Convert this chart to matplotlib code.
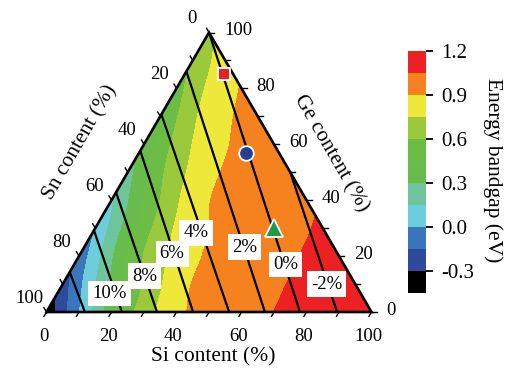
import numpy as np
import matplotlib
matplotlib.use("Agg")
import matplotlib.pyplot as plt
import matplotlib.tri as mtri
from matplotlib.colors import ListedColormap, BoundaryNorm

plt.rcParams["font.family"] = ["Liberation Serif", "DejaVu Serif"]
plt.rcParams["axes.unicode_minus"] = False

# ---------------------------------------------------------------------------
# Energy bandgap (eV) of Ge-Si-Sn alloys on a 10 % composition grid.
# Each row has a fixed Ge content; entries run over Si = 0, 10, ... 100-Ge %,
# the remainder being Sn.
# ---------------------------------------------------------------------------
ge_content = [0, 10, 20, 30, 40, 50, 60, 70, 80, 90, 100]
bandgap_rows = [
    [-0.410, -0.012, 0.386, 0.678, 0.863, 0.944, 0.999, 1.051, 1.074, 1.097, 1.120],
    [-0.228, 0.141, 0.475, 0.735, 0.905, 0.957, 1.008, 1.054, 1.077, 1.100],
    [-0.107, 0.275, 0.604, 0.793, 0.919, 0.968, 1.017, 1.057, 1.080],
    [0.000, 0.364, 0.663, 0.846, 0.932, 0.978, 1.025, 1.061],
    [0.125, 0.449, 0.727, 0.895, 0.944, 0.990, 1.035],
    [0.236, 0.565, 0.784, 0.912, 0.957, 1.003],
    [0.338, 0.645, 0.832, 0.925, 0.971],
    [0.431, 0.717, 0.878, 0.939],
    [0.530, 0.776, 0.906],
    [0.628, 0.822],
    [0.720],
]

band_levels = [-0.45, -0.30, -0.15, 0.00, 0.15, 0.30, 0.45, 0.60, 0.75, 0.90, 1.05, 1.20]
band_colors = ["#000000", "#2D4A9D", "#3A76BB", "#6DCDDB", "#6CC59B", "#67BC4B",
               "#6BBD45", "#9BC93C", "#EEE83A", "#F5821F", "#ED2024"]
cbar_ticks = [-0.3, 0.0, 0.3, 0.6, 0.9, 1.2]

# Lattice-mismatch lines (%): upper end (Si, Ge fractions) and Si fraction where
# each line meets the Ge-free edge.
strain_pct = [12, 10, 8, 6, 4, 2, 0, -2]
strain_top_si = [0.0, 0.0, 0.0, 0.0, 0.0, 0.0, 0.0, 0.50]
strain_top_ge = [0.143, 0.292, 0.428, 0.577, 0.707, 0.861, 1.0, 0.50]
strain_bottom_si = [0.118, 0.232, 0.340, 0.451, 0.562, 0.672, 0.780, 0.894]
label_frac = [None, 0.77, 0.70, 0.64, 0.60, 0.73, 0.83, 0.80]   # where the label sits
label_dx_px = [0, -6, 0, -2, -6, 1, 1, -1]

# Sample compositions (fractions)
sample_si = [0.12, 0.33, 0.55]
sample_ge = [0.85, 0.57, 0.30]
sample_marker = ["s", "o", "^"]
sample_color = ["#E8202A", "#233E93", "#1E9A4A"]
sample_size = [8.5, 10.5, 12.5]

H3 = np.sqrt(3) / 2


def cart(si, ge):
    si = np.asarray(si, float)
    ge = np.asarray(ge, float)
    return si + 0.5 * ge, H3 * ge


W, H = 508, 372
fig = plt.figure(figsize=(W / 100, H / 100), dpi=100)


def px_rect(x0, y0, x1, y1):
    return [x0 / W, 1 - y1 / H, (x1 - x0) / W, (y1 - y0) / H]


ax = fig.add_axes(px_rect(46.5, 32.5, 371.5, 312))
ax.set_xlim(0, 1)
ax.set_ylim(0, H3)
ax.axis("off")

# grid nodes -> smooth surface through them
px, py, pz = [], [], []
for ge, row in zip(ge_content, bandgap_rows):
    for k, e in enumerate(row):
        x, y = cart(k * 0.1, ge / 100)
        px.append(float(x)); py.append(float(y)); pz.append(e)
tri = mtri.Triangulation(px, py)
interp = mtri.CubicTriInterpolator(tri, pz, kind="min_E")
tri_f, z_f = mtri.UniformTriRefiner(tri).refine_field(pz, triinterpolator=interp, subdiv=3)
z_f = np.clip(z_f, band_levels[0] + 1e-6, band_levels[-1] - 1e-6)

cmap = ListedColormap(band_colors)
norm = BoundaryNorm(band_levels, cmap.N)
cs = ax.tricontourf(tri_f, z_f, levels=band_levels, cmap=cmap, norm=norm)
cs.set_edgecolor("face")
cs.set_linewidth(0.3)

# strain lines with labels
for i, s in enumerate(strain_pct):
    x0, y0 = cart(strain_top_si[i], strain_top_ge[i])
    x1, y1 = cart(strain_bottom_si[i], 0.0)
    ax.plot([x0, x1], [y0, y1], color="black", lw=1.6, solid_capstyle="butt", zorder=3)
    t = label_frac[i]
    if t is not None:
        lx, ly = x0 + t * (x1 - x0), y0 + t * (y1 - y0)
        ax.annotate(f"{s}%", (lx, ly), xytext=(label_dx_px[i] * 0.72, 0),
                    textcoords="offset points", ha="center", va="center",
                    fontsize=13.5, zorder=5,
                    bbox=dict(boxstyle="square,pad=0.22", fc="white", ec="none"))

# triangle frame
ax.plot([0, 1, 0.5, 0], [0, 0, H3, 0], color="black", lw=1.9,
        solid_joinstyle="miter", clip_on=False, zorder=4)

# ticks and tick labels
tl = 5 / 325
for v in range(0, 101, 10):
    f = v / 100
    # Si (bottom)
    bx, by = f, 0.0
    ax.plot([bx, bx - 0.5 * tl], [by, by - H3 * tl], color="black", lw=1.0, clip_on=False)
    # Sn (left)
    lx, ly = 0.5 * (1 - f), H3 * (1 - f)
    ax.plot([lx, lx - 0.5 * tl], [ly, ly + H3 * tl], color="black", lw=1.0, clip_on=False)
    # Ge (right)
    rx, ry = 1 - 0.5 * f, H3 * f
    ax.plot([rx, rx + tl], [ry, ry], color="black", lw=1.0, clip_on=False)
    if v % 20 == 0:
        ax.annotate(str(v), (bx, by), xytext=(-2.2, -17.5), textcoords="offset points",
                    ha="center", va="center", fontsize=13.5, annotation_clip=False)
        ax.annotate(str(v), (lx, ly), xytext=(-12.5, 10.0), textcoords="offset points",
                    ha="center", va="center", fontsize=13.5, annotation_clip=False)
        ax.annotate(str(v), (rx, ry), xytext=(10.8, 1.1), textcoords="offset points",
                    ha="left", va="center", fontsize=13.5, annotation_clip=False)

# samples
for si, ge, m, c, s in zip(sample_si, sample_ge, sample_marker, sample_color, sample_size):
    x, y = cart(si, ge)
    ax.plot(x, y, marker=m, color=c, markersize=s, markeredgecolor="white",
            markeredgewidth=1.3, zorder=6, clip_on=False)

# axis titles
fig.text(213 / W, 1 - 357 / H, "Si content (%)", ha="center", va="center", fontsize=15.5)
fig.text(80 / W, 1 - 142.5 / H, "Sn content (%)", ha="center", va="center",
         rotation=60, fontsize=15.5)
fig.text(331 / W, 1 - 153 / H, "Ge content (%)", ha="center", va="center",
         rotation=-60, fontsize=15.5)

# colour bar
cax = fig.add_axes(px_rect(408.3, 50.7, 425.7, 293.3))
cb = fig.colorbar(cs, cax=cax, ticks=cbar_ticks)
cb.minorticks_off()
cb.outline.set_visible(False)
cb.set_ticklabels([f"{t:.1f}" for t in cbar_ticks])
cax.tick_params(which="major", direction="out", length=5, width=1.3, labelsize=15, pad=6)
cax.tick_params(which="minor", length=0)
fig.text(493 / W, 1 - 170 / H, "Energy bandgap (eV)", ha="center", va="center",
         rotation=-90, fontsize=15.5)

fig.savefig("out.png", dpi=100)
